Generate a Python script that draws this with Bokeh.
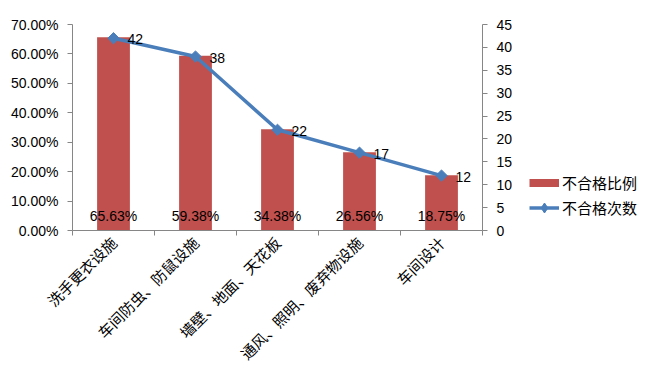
import math
import numpy as np
from bokeh.plotting import figure
from bokeh.layouts import row
from bokeh.models import (Range1d, LinearAxis, FixedTicker, NumeralTickFormatter,
                          ColumnDataSource, Legend, LegendItem)
from bokeh.core.properties import value
from bokeh.embed import file_html
from bokeh.resources import INLINE

categories = ["洗手更衣设施", "车间防虫、防鼠设施", "墙壁、地面、天花板", "通风、照明、废弃物设施", "车间设计"]
ratio = [0.6563, 0.5938, 0.3438, 0.2656, 0.1875]
counts = [42, 38, 22, 17, 12]
left_ticks = [0.0, 0.1, 0.2, 0.3, 0.4, 0.5, 0.6, 0.7]
right_ticks = [0, 5, 10, 15, 20, 25, 30, 35, 40, 45]
ratio_name = "不合格比例"
count_name = "不合格次数"

BAR = "#c0504d"
LINE = "#4a7ebb"
AX = "#868686"
NUMFONT = "Liberation Sans"
CJK = "Noto Sans CJK SC"

H = 374
W1, W2 = 515, 122
n = len(categories)
xs = np.arange(n) + 0.5
src = ColumnDataSource(dict(
    x=xs, ratio=ratio, counts=counts,
    plab=[f"{v*100:.2f}%" for v in ratio],
    clab=[str(c) for c in counts],
))

p = figure(width=W1, height=H, output_backend="svg", toolbar_location=None,
           x_range=Range1d(0, n), y_range=Range1d(0, left_ticks[-1]),
           min_border_left=72, min_border_right=32, min_border_top=24, min_border_bottom=141)
p.extra_y_ranges = {"right": Range1d(0, right_ticks[-1])}
p.outline_line_color = None
p.xgrid.visible = False
p.ygrid.visible = False
p.background_fill_color = "white"
p.border_fill_color = "white"

bars = p.vbar(x="x", top="ratio", width=0.4, source=src, fill_color=BAR, line_color=None)
ln = p.line(x="x", y="counts", source=src, line_color=LINE, line_width=3.5, y_range_name="right")
mk = p.scatter(x="x", y="counts", source=src, marker="square", angle=math.pi/4, size=8,
               fill_color=LINE, line_color=LINE, y_range_name="right")

p.text(x="x", y=0, text="plab", source=src, text_align="center", text_baseline="bottom",
       y_offset=-7, text_font=value(NUMFONT), text_font_size="14px", text_color="black")
p.text(x="x", y="counts", text="clab", source=src, text_align="left", text_baseline="middle",
       x_offset=14, y_offset=1, text_font=value(NUMFONT), text_font_size="14px", text_color="black",
       y_range_name="right")

# bottom axis
xa = p.xaxis[0]
xa.ticker = FixedTicker(ticks=list(xs), minor_ticks=list(range(n + 1)))
xa.major_label_overrides = {float(x): c for x, c in zip(xs, categories)}
xa.major_label_orientation = math.pi / 4
xa.major_tick_out = 0
xa.major_tick_in = 0
xa.minor_tick_out = 5
xa.minor_tick_in = 0
xa.minor_tick_line_color = AX
xa.axis_line_color = AX
xa.major_label_text_font = CJK
xa.major_label_text_font_size = "15px"
xa.major_label_text_color = "black"
xa.major_label_standoff = 4

# left axis
ya = p.yaxis[0]
ya.ticker = FixedTicker(ticks=left_ticks)
ya.formatter = NumeralTickFormatter(format="0.00%")
ya.major_tick_out = 5
ya.major_tick_in = 0
ya.minor_tick_out = 0
ya.minor_tick_in = 0
ya.axis_line_color = AX
ya.major_tick_line_color = AX
ya.major_label_text_font = NUMFONT
ya.major_label_text_font_size = "14px"
ya.major_label_text_color = "black"
ya.major_label_standoff = 9

ra = LinearAxis(y_range_name="right", ticker=FixedTicker(ticks=right_ticks))
ra.major_tick_out = 5
ra.major_tick_in = 0
ra.minor_tick_out = 0
ra.minor_tick_in = 0
ra.axis_line_color = AX
ra.major_tick_line_color = AX
ra.major_label_text_font = NUMFONT
ra.major_label_text_font_size = "14px"
ra.major_label_text_color = "black"
ra.major_label_standoff = 9
p.add_layout(ra, "right")

# legend panel: a second, axis-less figure next to the chart
lg = figure(width=W2, height=H, output_backend="svg", toolbar_location=None,
            x_range=Range1d(0, 1), y_range=Range1d(0, 1), x_axis_type=None, y_axis_type=None,
            min_border_left=0, min_border_right=0, min_border_top=0, min_border_bottom=0)
lg.outline_line_color = None
lg.xgrid.visible = False
lg.ygrid.visible = False
lg.border_fill_color = "white"
proxy_bar = lg.line(x=[0], y=[0], line_color=BAR, line_width=8, visible=False)
proxy_line = lg.line(x=[0], y=[0], line_color=LINE, line_width=3.5, visible=False)
proxy_dia = lg.scatter(x=[0], y=[0], marker="diamond", fill_color=LINE, line_color=LINE, visible=False)

legend = Legend(items=[LegendItem(label=ratio_name, renderers=[proxy_bar]),
                       LegendItem(label=count_name, renderers=[proxy_line, proxy_dia])],
                location=(14, 10), orientation="vertical",
                glyph_width=30, glyph_height=25, spacing=0, padding=0, margin=0,
                label_standoff=3, border_line_color=None, background_fill_alpha=0,
                label_text_font=CJK, label_text_font_size="15px", label_text_color="black")
lg.add_layout(legend, "center")

layout = row(p, lg, spacing=0)
open("out.html", "w").write(file_html(layout, INLINE))
